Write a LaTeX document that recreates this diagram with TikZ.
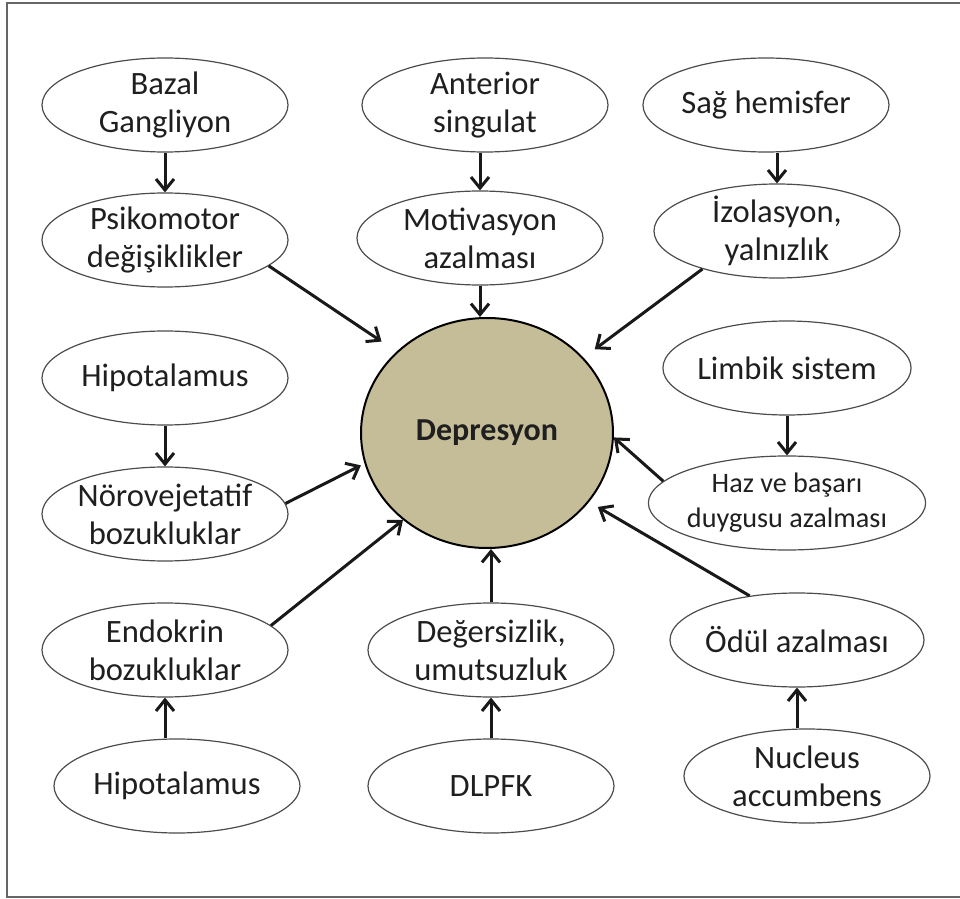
\documentclass[tikz,border=0pt]{standalone}
\usepackage{fontspec}
\setmainfont{Carlito}
\usetikzlibrary{shapes.geometric,arrows.meta}
\definecolor{depfill}{RGB}{196,189,152}

\begin{document}
\begin{tikzpicture}[x=0.5pt,y=-0.5pt,
  every node/.style={text=black!88,font=\fontsize{16.3}{19}\selectfont,align=center,inner sep=-1pt},
  oval/.style={ellipse,draw=black!70,line width=0.6pt,minimum width=123pt,minimum height=47pt},
  arr/.style={-{Straight Barb[length=5.5pt,width=9pt]},line width=1.5pt,black!90}]
\useasboundingbox (0,0) rectangle (960,899);
\draw[black!60,line width=1pt] (965,3) -- (7,3) -- (7,897) -- (965,897);
\node[oval] (bazal) at (165,105) {Bazal\\Gangliyon};
\node[oval] (anter) at (485,105) {Anterior\\singulat};
\node[oval] (sag) at (766,105) {Sağ hemisfer};
\node[oval] (psiko) at (165,240) {Psikomotor\\değişiklikler};
\node[oval] (motiv) at (480,238) {Motivasyon\\azalması};
\node[oval] (izol) at (777,231) {İzolasyon,\\yalnızlık};
\node[oval] (hipoA) at (165,378) {Hipotalamus};
\node[oval] (limbik) at (787,368) {Limbik sistem};
\node[ellipse,draw=black,line width=1pt,fill=depfill,minimum width=126pt,minimum height=115pt,
  font=\bfseries\fontsize{16}{19}\selectfont] (dep) at (487,433) {Depresyon};
\node[oval] (norov) at (165,514) {Nörovejetatif\\bozukluklar};
\node[oval,font=\fontsize{14.1}{17.5}\selectfont] (haz) at (787,503) {Haz ve başarı\\duygusu azalması};
\node[oval] (endo) at (165,650) {Endokrin\\bozukluklar};
\node[oval] (deger) at (491,650) {Değersizlik,\\umutsuzluk};
\node[oval] (odul) at (797,640) {Ödül azalması};
\node[oval] (hipoB) at (177,786) {Hipotalamus};
\node[oval] (dlpfk) at (491,786) {DLPFK};
\node[oval] (nucl) at (807,776) {Nucleus\\accumbens};
\draw[arr] (bazal) -- (psiko);
\draw[arr] (anter.south -| motiv) -- (motiv.north);
\draw[arr] (sag.south -| izol) -- (izol.north);
\draw[arr] (motiv.south) -- (motiv.south |- dep.north);
\draw[arr,shorten >=9pt] (psiko.-14) -- (dep.138);
\draw[arr,shorten >=7pt] (izol.207) -- (dep.38);
\draw[arr] (hipoA) -- (norov);
\draw[arr] (limbik) -- (haz);
\draw[arr] (haz.170) -- (dep.-2);
\draw[arr,shorten >=2pt] (norov.5) -- (dep.194);
\draw[arr] (endo.13) -- (dep.226);
\draw[arr] (deger.north) -- (deger.north |- dep.south);
\draw[arr] (dlpfk) -- (deger);
\draw[arr] (hipoB.north -| endo) -- (endo.south);
\draw[arr,shorten >=5pt] (odul.137) -- (dep.-34);
\draw[arr] (nucl.north -| odul) -- (odul.south);
\end{tikzpicture}
\end{document}
